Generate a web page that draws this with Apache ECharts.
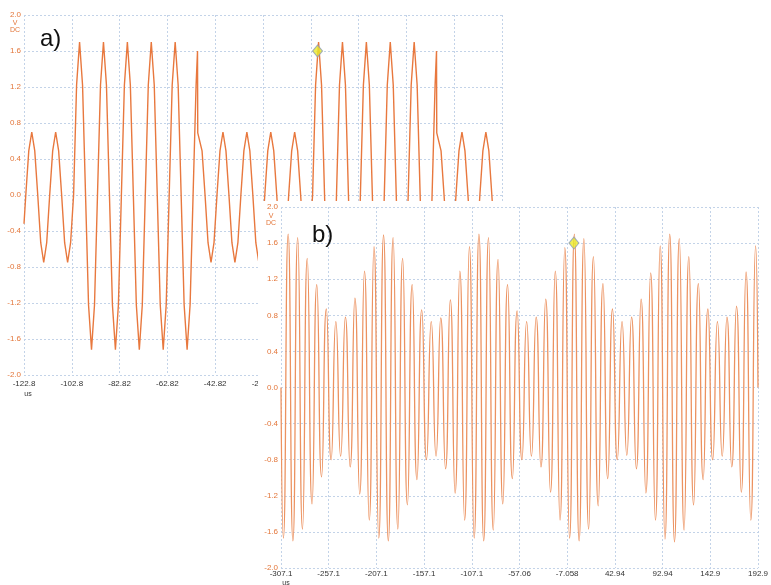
<!DOCTYPE html>
<html><head><meta charset="utf-8">
<script src="https://cdn.jsdelivr.net/npm/echarts@6/dist/echarts.min.js"></script>
<style>html,body{margin:0;padding:0;background:#fff}#c{width:771px;height:585px}</style>
</head><body><div id="c"></div>
<script>
// ---- panel a) : time (us from left edge of capture), volts ----
const aTime = [0,
 0.75,2,3.25,4.5,5.75,7,8.25,9.5,
 10.75,12,13.25,14.5,15.75,17,18.25,19.5,
 20.75,22,23.25,24.5,25.75,27,28.25,29.5,
 30.75,32,33.25,34.5,35.75,37,38.25,39.5,
 40.75,42,43.25,44.5,45.75,47,48.25,49.5,
 50.75,52,53.25,54.5,55.75,57,58.25,59.5,
 60.75,62,63.25,64.5,65.75,67,68.25,69.5,
 70.75,72,72.6,72.7,73.25,74.5,75.75,77,78.25,79.5,
 80.75,82,83.25,84.5,85.75,87,88.25,89.5,
 90.75,92,93.25,94.5,95.75,97,98.25,99.5,
 100.75,102,103.25,104.5,105.75,107,108.25,109.5,
 110.75,112,113.25,114.5,115.75,117,118.25,119.5,
 120.75,122,123.25,124.5,125.75,127,128.25,129.5,
 130.75,132,133.25,134.5,135.75,137,138.25,139.5,
 140.75,142,143.25,144.5,145.75,147,148.25,149.5,
 150.75,152,153.25,154.5,155.75,157,158.25,159.5,
 160.75,162,163.25,164.5,165.75,167,168.25,169.5,
 170.75,172,172.6,172.7,173.25,174.5,175.75,177,178.25,179.5,
 180.75,182,183.25,184.5,185.75,187,188.25,189.5,
 190.75,192,193.25,194.5,195.75,197,198.25,199.5,
 200];
const aVolt = [-0.32,
 0,0.49,0.70,0.49,0,-0.53,-0.75,-0.53,
 0,0.49,0.70,0.49,0,-0.53,-0.75,-0.53,
 0,1.22,1.70,1.22,0,-1.22,-1.72,-1.22,
 0,1.22,1.70,1.22,0,-1.22,-1.72,-1.22,
 0,1.22,1.70,1.22,0,-1.22,-1.72,-1.22,
 0,1.22,1.70,1.22,0,-1.22,-1.72,-1.22,
 0,1.22,1.70,1.22,0,-1.22,-1.72,-1.22,
 0,1.22,1.60,0.69,0.70,0.49,0,-0.53,-0.75,-0.53,
 0,0.49,0.70,0.49,0,-0.53,-0.75,-0.53,
 0,0.49,0.70,0.49,0,-0.53,-0.75,-0.53,
 0,0.49,0.70,0.49,0,-0.53,-0.75,-0.53,
 0,0.49,0.70,0.49,0,-0.53,-0.75,-0.53,
 0,1.22,1.70,1.22,0,-1.22,-1.72,-1.22,
 0,1.22,1.70,1.22,0,-1.22,-1.72,-1.22,
 0,1.22,1.70,1.22,0,-1.22,-1.72,-1.22,
 0,1.22,1.70,1.22,0,-1.22,-1.72,-1.22,
 0,1.22,1.70,1.22,0,-1.22,-1.72,-1.22,
 0,1.22,1.60,0.69,0.70,0.49,0,-0.53,-0.75,-0.53,
 0,0.49,0.70,0.49,0,-0.53,-0.75,-0.53,
 0,0.49,0.70,0.49,0,-0.53,-0.75,-0.53,
 -0.32];
const aTickLabels = ['-122.8','-102.8','-82.82','-62.82','-42.82','-22.82','-2.820','17.18','37.18','57.18','77.18'];

// ---- panel b) ----
const bTime = [0,
 2.5,7.5,12.5,17.5,22.5,27.5,32.5,37.5,42.5,47.5,
 52.5,57.5,62.5,67.5,72.5,77.5,82.5,87.5,92.5,97.5,
 102.5,107.5,112.5,117.5,122.5,127.5,132.5,137.5,142.5,147.5,
 152.5,157.5,162.5,167.5,172.5,177.5,182.5,187.5,192.5,197.5,
 202.5,207.5,212.5,217.5,222.5,227.5,232.5,237.5,242.5,247.5,
 252.5,257.5,262.5,267.5,272.5,277.5,282.5,287.5,292.5,297.5,
 302.5,307.5,312.5,317.5,322.5,327.5,332.5,337.5,342.5,347.5,
 352.5,357.5,362.5,367.5,372.5,377.5,382.5,387.5,392.5,397.5,
 402.5,407.5,412.5,417.5,422.5,427.5,432.5,437.5,442.5,447.5,
 452.5,457.5,462.5,467.5,472.5,477.5,482.5,487.5,492.5,497.5,
 500];
const bVolt = [0.00,
 -1.67,1.70,-1.70,1.66,-1.57,1.43,-1.29,1.14,-0.99,0.87,
 -0.80,0.73,-0.76,0.78,-0.88,0.99,-1.18,1.29,-1.47,1.56,
 -1.67,1.69,-1.70,1.66,-1.57,1.43,-1.30,1.14,-1.02,0.86,
 -0.80,0.73,-0.76,0.77,-0.90,0.97,-1.17,1.29,-1.47,1.56,
 -1.67,1.70,-1.70,1.66,-1.58,1.42,-1.29,1.14,-1.01,0.85,
 -0.80,0.73,-0.76,0.78,-0.88,0.98,-1.16,1.29,-1.47,1.55,
 -1.67,1.70,-1.70,1.65,-1.57,1.45,-1.31,1.15,-1.01,0.87,
 -0.80,0.73,-0.75,0.78,-0.90,0.98,-1.17,1.27,-1.47,1.57,
 -1.68,1.70,-1.71,1.65,-1.58,1.45,-1.30,1.15,-1.02,0.87,
 -0.80,0.73,-0.76,0.78,-0.88,0.90,-1.16,1.28,-1.47,1.57,
 0.00];
const bTickLabels = ['-307.1','-257.1','-207.1','-157.1','-107.1','-57.06','-7.058','42.94','92.94','142.9','192.9'];

// trigger markers (t = 0 us)
const triggerTimeA = [122.82];
const triggerTimeB = [307.06];
const triggerVolt = [1.6];

const FONT = 'Liberation Sans, Arial, sans-serif';
const gridLineStyle = {show:true, lineStyle:{color:'#c3d3e8', type:[2,2], width:1}};
function xAx(gi, max, interval, labels, margin, z){
  return {gridIndex:gi, type:'value', min:0, max:max, interval:interval, z:z,
    axisLine:{show:false}, axisTick:{show:false}, splitLine:gridLineStyle,
    axisLabel:{color:'#333', fontSize:8, fontFamily:FONT, margin:margin, showMinLabel:true, showMaxLabel:true,
      formatter: v => labels[Math.round(v/interval)]}};
}
function yAx(gi, margin, z){
  return {gridIndex:gi, type:'value', min:-2, max:2, interval:0.4, z:z,
    axisLine:{show:false}, axisTick:{show:false}, splitLine:gridLineStyle,
    axisLabel:{color:'#e3763a', fontSize:8, fontFamily:FONT, margin:margin, formatter: v => v.toFixed(1)}};
}
const chart = echarts.init(document.getElementById('c'));
chart.setOption({
  animation:false,
  backgroundColor:'#fff',
  grid:[{left:24, top:15, width:478, height:360},{left:281, top:207, width:479, height:361}],
  xAxis:[xAx(0,200,20,aTickLabels,5,1), xAx(1,500,50,bTickLabels,2,6)],
  yAxis:[yAx(0,3,1), yAx(1,3,6)],
  series:[
    {type:'line', xAxisIndex:0, yAxisIndex:0, data:aTime.map((t,i)=>[t,aVolt[i]]), symbol:'none',
     lineStyle:{color:'#e8783e', width:1.4}, z:2},
    {type:'scatter', xAxisIndex:0, yAxisIndex:0, data:triggerTimeA.map((t,i)=>[t,triggerVolt[i]]), symbol:'diamond', symbolSize:[10,12],
     itemStyle:{color:'#eaea2a', borderColor:'#8c9bb8', borderWidth:1}, z:3},
    {type:'line', xAxisIndex:1, yAxisIndex:1, data:bTime.map((t,i)=>[t,bVolt[i]]), symbol:'none', smooth:0.6,
     lineStyle:{color:'#ec9260', width:1.3}, z:8},
    {type:'scatter', xAxisIndex:1, yAxisIndex:1, data:triggerTimeB.map((t,i)=>[t,triggerVolt[i]]), symbol:'diamond', symbolSize:[10,12],
     itemStyle:{color:'#eaea2a', borderColor:'#8c9bb8', borderWidth:1}, z:9}
  ],
  graphic:{elements:[
    {type:'rect', z:5, shape:{x:258, y:201, width:513, height:384}, style:{fill:'#fff'}},
    {type:'text', z:4, style:{x:40, y:39, text:'a)', font:'24px '+FONT, fill:'#111', align:'left', verticalAlign:'middle'}},
    {type:'text', z:4, style:{x:15, y:23, text:'V', font:'7px '+FONT, fill:'#e3763a', align:'center', verticalAlign:'middle'}},
    {type:'text', z:4, style:{x:15, y:30, text:'DC', font:'7px '+FONT, fill:'#e3763a', align:'center', verticalAlign:'middle'}},
    {type:'text', z:4, style:{x:28, y:394, text:'us', font:'7px '+FONT, fill:'#333', align:'center', verticalAlign:'middle'}},
    {type:'text', z:12, style:{x:312, y:235, text:'b)', font:'24px '+FONT, fill:'#111', align:'left', verticalAlign:'middle'}},
    {type:'text', z:12, style:{x:271, y:216, text:'V', font:'7px '+FONT, fill:'#e3763a', align:'center', verticalAlign:'middle'}},
    {type:'text', z:12, style:{x:271, y:223, text:'DC', font:'7px '+FONT, fill:'#e3763a', align:'center', verticalAlign:'middle'}},
    {type:'text', z:12, style:{x:286, y:583, text:'us', font:'7px '+FONT, fill:'#333', align:'center', verticalAlign:'middle'}}
  ]}
});
</script></body></html>
